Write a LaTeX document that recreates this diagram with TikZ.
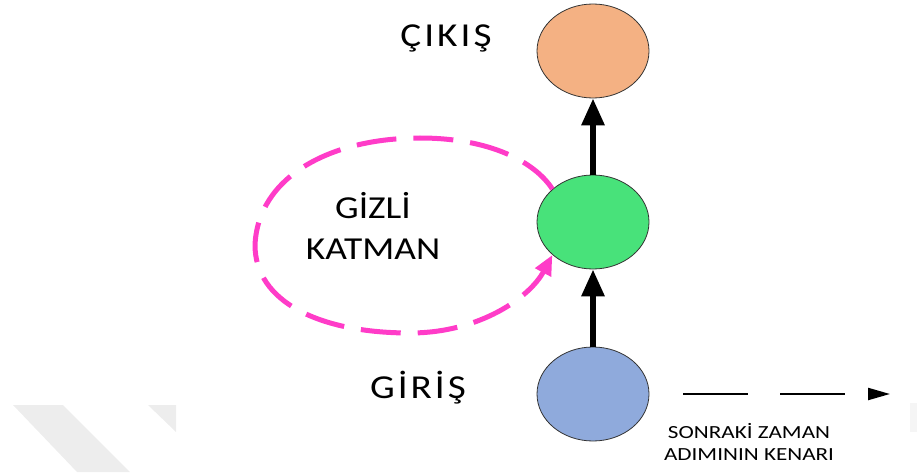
\documentclass[tikz,border=0pt]{standalone}
\usepackage{fontspec}
\setmainfont{Carlito}[FakeStretch=1.17]
\newfontfamily\stepfont{Carlito}[FakeStretch=1.25]
\newfontfamily\spacedfont{Carlito}[FakeStretch=1.17, LetterSpace=9]
\usetikzlibrary{arrows.meta,shapes.geometric}

\definecolor{outfill}{HTML}{F4B183}
\definecolor{hiddenfill}{HTML}{48E27A}
\definecolor{infill}{HTML}{8FAADC}
\definecolor{looppink}{HTML}{FF3CC8}

\begin{document}
\begin{tikzpicture}[x=1pt, y=1pt,
    layer/.style={ellipse, draw=black!80, line width=0.8pt, minimum width=112pt, minimum height=94pt, inner sep=0pt},
    bigtext/.style={anchor=base, align=center, font=\fontsize{32}{41}\selectfont},
    spacedtext/.style={anchor=base, font=\spacedfont\fontsize{33.5}{41}\selectfont},
    smalltext/.style={anchor=base, align=center, font=\stepfont\fontsize{18.5}{22}\selectfont},
    feed/.style={line width=6pt, -{Triangle[length=27pt,width=22pt]}},
    recur/.style={looppink, line width=5pt, dash pattern=on 40pt off 17pt, -{Triangle[length=20pt,width=17pt]}},
    nextstep/.style={line width=2.2pt, dash pattern=on 65pt off 32pt, -{Triangle[length=22pt,width=12pt]}}
]
    \useasboundingbox (0,0) rectangle (917,472);

    % faint grey bands
    \fill[black!7] (13,67) -- (63,67) -- (130,0) -- (77,0) -- cycle;
    \fill[black!7] (148,67) -- (176,67) -- (176,40) -- cycle;
    \fill[black!4] (910,40) rectangle (917,69);

    % Layers
    \node[layer, fill=outfill]    (output) at (593,421) {};
    \node[layer, fill=hiddenfill] (hidden) at (593,250) {};
    \node[layer, fill=infill]     (input)  at (593,78)  {};

    % Labels (base = last line)
    \node[spacedtext] (outtext)  at (446,425) {ÇIKIŞ};
    \node[bigtext] (hiddentext)  at (373,213) {GİZLİ\\KATMAN};
    \node[spacedtext] (intext)   at (418,74)  {GİRİŞ};
    \node[smalltext] (steptext)  at (749,12)  {SONRAKİ ZAMAN\\ADIMININ KENARI};

    % Connections
    \draw[feed] (input) -- (hidden);
    \draw[feed] (hidden) -- (output);
    \draw[recur] (hidden.141) .. controls (535,310) and (490,334) .. (420,334)
        .. controls (330,334) and (258,295) .. (255,227)
        .. controls (255,170) and (320,139) .. (410,139)
        .. controls (480,139) and (530,175) .. (hidden.219);
    \coordinate (nextend) at (890,78);
    \draw[nextstep] ([xshift=34pt]input.east) -- (nextend);
\end{tikzpicture}
\end{document}
